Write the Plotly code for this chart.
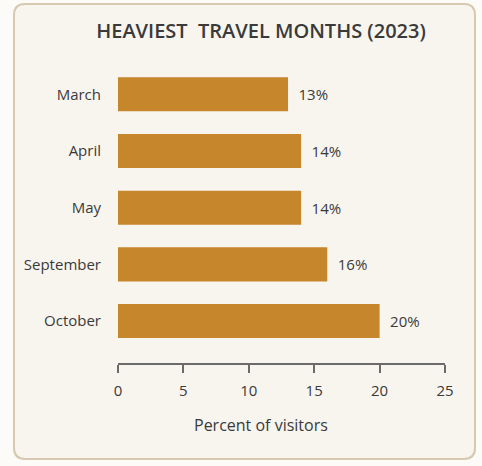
import plotly.graph_objects as go

# Share of visitors by month (percent)
months = ["March", "April", "May", "September", "October"]
visitor_share = [13, 14, 14, 16, 20]
x_ticks = [0, 5, 10, 15, 20, 25]

BAR_COLOR = "#c6862b"
TEXT_COLOR = "#3a3a3a"
FONT = "Open Sans, Noto Sans, sans-serif"

W, H = 482, 466
ML, MR, MT, MB = 118, 37, 66, 103

fig = go.Figure(
    go.Bar(
        x=visitor_share,
        y=months,
        orientation="h",
        width=0.6,
        marker=dict(color=BAR_COLOR, line=dict(width=0)),
        text=[f"\u2002{v}%" for v in visitor_share],
        textposition="outside",
        textfont=dict(family=FONT, size=15, color=TEXT_COLOR),
        cliponaxis=False,
        hoverinfo="skip",
    )
)


def pt(px, py):
    """Pixel position on the page -> paper coordinates string."""
    a = (px - ML) / (W - ML - MR)
    b = 1 - (py - MT) / (H - MT - MB)
    return f"{a:.5f},{b:.5f}"


# Rounded card behind the chart
x0, y0, x1, y1, r = 14, 4, 475, 459, 11
card_path = (
    f"M {pt(x0 + r, y0)} L {pt(x1 - r, y0)} Q {pt(x1, y0)} {pt(x1, y0 + r)} "
    f"L {pt(x1, y1 - r)} Q {pt(x1, y1)} {pt(x1 - r, y1)} L {pt(x0 + r, y1)} "
    f"Q {pt(x0, y1)} {pt(x0, y1 - r)} L {pt(x0, y0 + r)} Q {pt(x0, y0)} {pt(x0 + r, y0)} Z"
)

fig.add_shape(
    type="path",
    path=card_path,
    xref="paper",
    yref="paper",
    fillcolor="#f8f5ef",
    line=dict(color="#d6c9b0", width=2),
    layer="below",
)

# Axis caption, centred under the card
fig.add_annotation(
    text="Percent of visitors",
    xref="paper",
    yref="paper",
    x=float(pt(261, 425).split(",")[0]),
    y=float(pt(261, 425).split(",")[1]),
    xanchor="center",
    yanchor="middle",
    showarrow=False,
    font=dict(family=FONT, size=16, color=TEXT_COLOR),
)

fig.update_layout(
    width=W,
    height=H,
    margin=dict(l=ML, r=MR, t=MT, b=MB),
    paper_bgcolor="#fdfbf7",
    plot_bgcolor="rgba(0,0,0,0)",
    showlegend=False,
    title=dict(
        text="HEAVIEST  TRAVEL MONTHS (2023)",
        x=261 / W,
        xanchor="center",
        y=1 - 31 / H,
        yanchor="middle",
        font=dict(family=FONT, size=20, color=TEXT_COLOR, weight=600),
    ),
    xaxis=dict(
        range=[0, 25],
        tickvals=x_ticks,
        ticktext=[str(t) for t in x_ticks],
        showgrid=False,
        zeroline=False,
        showline=True,
        linecolor="#6b6b6b",
        linewidth=1.5,
        ticks="outside",
        ticklen=8,
        tickwidth=1.5,
        tickcolor="#6b6b6b",
        ticklabelstandoff=5,
        tickfont=dict(family=FONT, size=15, color=TEXT_COLOR),
        fixedrange=True,
    ),
    yaxis=dict(
        range=[4.74, -0.5],
        showgrid=False,
        zeroline=False,
        showline=False,
        ticks="",
        ticklabelstandoff=16,
        tickfont=dict(family=FONT, size=15, color=TEXT_COLOR),
        fixedrange=True,
    ),
)

fig.write_html("out.html")
